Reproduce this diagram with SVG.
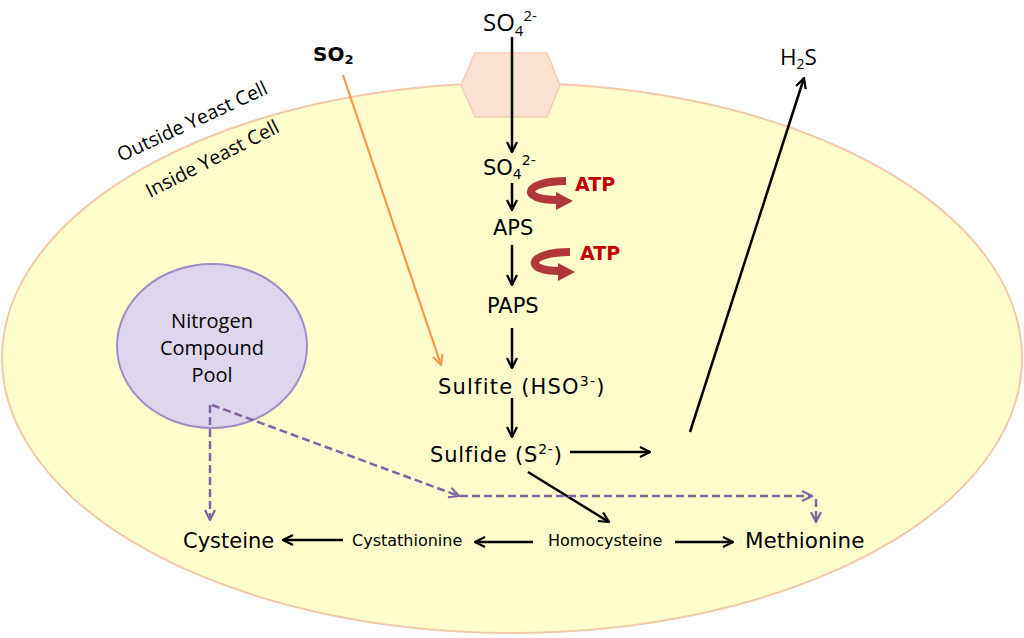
<svg xmlns="http://www.w3.org/2000/svg" width="1024" height="638" viewBox="0 0 1024 638">
<defs>
<style>
.cs{font-family:"Comic Sans MS","DejaVu Sans",sans-serif;fill:#000}
.cb{font-family:"Open Sans","Liberation Sans",sans-serif;fill:#000}
.blk{stroke:#000;stroke-width:2.5;fill:none}
.pur{stroke:#8064a2;stroke-width:2.5;fill:none;stroke-dasharray:8 4}
.atp{font-family:"Comic Sans MS","DejaVu Sans",sans-serif;font-weight:bold;fill:#c00000;font-size:19px}
.ra{stroke:#b0373a;stroke-width:8;fill:none;stroke-linecap:butt}
</style>
<marker id="ab" viewBox="0 0 12 12" refX="11" refY="6" markerWidth="12" markerHeight="12" markerUnits="userSpaceOnUse" orient="auto">
<path d="M1,1 L11,6 L1,11" fill="none" stroke="#000" stroke-width="2.2"/>
</marker>
<marker id="ap" viewBox="0 0 12 12" refX="11" refY="6" markerWidth="12" markerHeight="12" markerUnits="userSpaceOnUse" orient="auto">
<path d="M1,1 L11,6 L1,11" fill="none" stroke="#8064a2" stroke-width="2.2"/>
</marker>
<marker id="ao" viewBox="0 0 12 12" refX="11" refY="6" markerWidth="12" markerHeight="12" markerUnits="userSpaceOnUse" orient="auto">
<path d="M1,1 L11,6 L1,11" fill="none" stroke="#f79646" stroke-width="2"/>
</marker>
</defs>
<rect width="1024" height="638" fill="#ffffff"/>
<g id="cell">
<ellipse cx="512" cy="358" rx="510" ry="275" fill="#fffdcc" stroke="#f2c9a6" stroke-width="2"/>
<text class="cb" font-size="19.5" transform="translate(121,162) rotate(-25)">Outside Yeast Cell</text>
<text class="cb" font-size="19.5" transform="translate(150,198) rotate(-27)">Inside Yeast Cell</text>
</g>
<g id="transporter">
<polygon points="475,53 547,53 560,85 547,117 475,117 461,85" fill="#fbe1d2" stroke="#f6cdb2" stroke-width="1.5"/>
</g>
<g id="nitrogen-pool">
<ellipse cx="212" cy="346" rx="95" ry="82" fill="#ddd6ec" stroke="#a08cc4" stroke-width="2"/>
<text class="cb" font-size="20" text-anchor="middle" x="212" y="328">Nitrogen</text>
<text class="cb" font-size="20" text-anchor="middle" x="212" y="355">Compound</text>
<text class="cb" font-size="20" text-anchor="middle" x="212" y="382">Pool</text>
</g>
<g id="connectors">
<path class="blk" d="M512,37 L512,152" marker-end="url(#ab)"/>
<path class="blk" d="M512,183 L512,210" marker-end="url(#ab)"/>
<path class="blk" d="M512,245 L512,285" marker-end="url(#ab)"/>
<path class="blk" d="M512,328 L512,368" marker-end="url(#ab)"/>
<path class="blk" d="M512,398 L512,437" marker-end="url(#ab)"/>
<path class="blk" d="M570,452 L650,452" marker-end="url(#ab)"/>
<path class="blk" d="M690,432 L804,78" marker-end="url(#ab)"/>
<path class="blk" d="M528,472 L609,522" marker-end="url(#ab)"/>
<path class="blk" d="M343,540 L283,540" marker-end="url(#ab)"/>
<path class="blk" d="M533,542 L475,542" marker-end="url(#ab)"/>
<path class="blk" d="M675,542 L733,542" marker-end="url(#ab)"/>
<path d="M343,75 L441,365" stroke="#f79646" stroke-width="2.2" fill="none" marker-end="url(#ao)"/>
<path class="pur" d="M210,405 L210,520" marker-end="url(#ap)"/>
<path class="pur" d="M212,405 L459,496" marker-end="url(#ap)"/>
<path class="pur" d="M460,496 L812,496" marker-end="url(#ap)"/>
<path class="pur" d="M816,499 L816,522" marker-end="url(#ap)"/>
<path class="ra" d="M566,181 C524,181 518,200 558,200"/>
<polygon points="556,192 573,201 556,210" fill="#b0373a"/>
<path class="ra" d="M570,252 C528,252 522,271 560,271"/>
<polygon points="558,263 575,272 558,281" fill="#b0373a"/>
</g>
<g id="so4-out"><text class="cb" font-size="24" x="483" y="31">SO<tspan font-size="15" dy="5">4</tspan><tspan font-size="15" dy="-15">2-</tspan></text></g>
<g id="so2"><text class="cs" font-size="20" font-weight="bold" x="313" y="61">SO<tspan font-size="13" dy="3">2</tspan></text></g>
<g id="h2s"><text class="cb" font-size="22.5" x="780" y="65">H<tspan font-size="14" dy="4">2</tspan><tspan dy="-4">S</tspan></text></g>
<g id="so4-in"><text class="cs" font-size="21" x="483" y="175">SO<tspan font-size="14" dy="4">4</tspan><tspan font-size="14" dy="-14">2-</tspan></text></g>
<g id="atp1"><text class="atp" x="575" y="191">ATP</text></g>
<g id="aps"><text class="cs" font-size="21" x="493" y="235">APS</text></g>
<g id="atp2"><text class="atp" x="580" y="260">ATP</text></g>
<g id="paps"><text class="cs" font-size="21" x="487" y="313">PAPS</text></g>
<g id="sulfite"><text class="cs" font-size="21" letter-spacing="1.2" x="438" y="394">Sulfite (HSO<tspan font-size="14" dy="-8">3-</tspan><tspan dy="8">)</tspan></text></g>
<g id="sulfide"><text class="cs" font-size="21" letter-spacing="0.8" x="430" y="462">Sulfide (S<tspan font-size="14" dy="-8">2-</tspan><tspan dy="8">)</tspan></text></g>
<g id="cysteine"><text class="cs" font-size="21" x="183" y="548">Cysteine</text></g>
<g id="cystathionine"><text class="cs" font-size="16" x="352" y="546">Cystathionine</text></g>
<g id="homocysteine"><text class="cs" font-size="16" x="548" y="546">Homocysteine</text></g>
<g id="methionine"><text class="cs" font-size="21.5" x="745" y="548">Methionine</text></g>
</svg>
